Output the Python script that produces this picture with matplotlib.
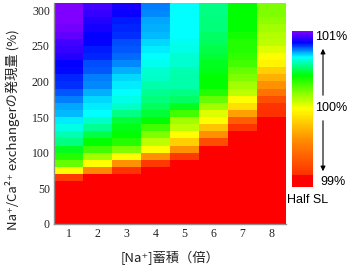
import numpy as np
import matplotlib
matplotlib.use("Agg")
import matplotlib.pyplot as plt
from matplotlib.colors import LinearSegmentedColormap

# [Na+] accumulation (fold) and NCX expression level (%)
na_fold = [1, 2, 3, 4, 5, 6, 7, 8]
ncx_edges = list(range(0, 320, 10))
y_ticks = [0, 50, 100, 150, 200, 250, 300]

# relative value (%) per column, rows from 0-10 up to 300-310; < 99 drawn as Half SL red
col1 = [98.5, 98.5, 98.5, 98.5, 98.5, 98.5, 99.05, 99.92, 100.2, 100.32, 100.41,
        100.51, 100.56, 100.61, 100.65, 100.69, 100.71, 100.74, 100.77, 100.8, 100.81,
        100.83, 100.84, 100.88, 100.9, 100.92, 100.96, 100.98, 101.0, 101.0, 101.0]
col2 = [98.5, 98.5, 98.5, 98.5, 98.5, 98.5, 98.5, 99.45, 99.92, 100.09, 100.26,
        100.38, 100.45, 100.53, 100.58, 100.64, 100.65, 100.67, 100.7, 100.73, 100.74,
        100.77, 100.78, 100.81, 100.82, 100.84, 100.84, 100.86, 100.88, 100.9, 100.92]
col3 = [98.5, 98.5, 98.5, 98.5, 98.5, 98.5, 98.5, 99.02, 99.5, 99.92, 100.15,
        100.32, 100.38, 100.4, 100.43, 100.51, 100.58, 100.61, 100.64, 100.65, 100.67,
        100.7, 100.73, 100.75, 100.77, 100.78, 100.8, 100.81, 100.82, 100.85, 100.86]
col4 = [98.5, 98.5, 98.5, 98.5, 98.5, 98.5, 98.5, 98.5, 99.05, 99.5, 99.92,
        100.04, 100.15, 100.26, 100.38, 100.43, 100.47, 100.5, 100.53, 100.55, 100.58,
        100.59, 100.62, 100.64, 100.65, 100.67, 100.69, 100.7, 100.71, 100.73, 100.74]
col5 = [98.5, 98.5, 98.5, 98.5, 98.5, 98.5, 98.5, 98.5, 98.5, 99.05, 99.5,
        99.74, 99.92, 100.04, 100.09, 100.26, 100.41, 100.48, 100.51, 100.55, 100.55,
        100.56, 100.59, 100.59, 100.61, 100.62, 100.64, 100.64, 100.64, 100.64, 100.64]
col6 = [98.5, 98.5, 98.5, 98.5, 98.5, 98.5, 98.5, 98.5, 98.5, 98.5, 98.5,
        99.15, 99.5, 99.7, 99.92, 99.98, 100.09, 100.2, 100.32, 100.38, 100.38,
        100.4, 100.41, 100.43, 100.45, 100.47, 100.48, 100.5, 100.5, 100.51, 100.51]
col7 = [98.5, 98.5, 98.5, 98.5, 98.5, 98.5, 98.5, 98.5, 98.5, 98.5, 98.5,
        98.5, 98.5, 99.02, 99.24, 99.56, 99.8, 99.92, 100.04, 100.09, 100.15,
        100.2, 100.26, 100.29, 100.32, 100.32, 100.35, 100.38, 100.38, 100.38, 100.38]
col8 = [98.5, 98.5, 98.5, 98.5, 98.5, 98.5, 98.5, 98.5, 98.5, 98.5, 98.5,
        98.5, 98.5, 98.5, 98.5, 99.0, 99.02, 99.15, 99.35, 99.5, 99.62,
        99.74, 99.88, 99.92, 99.98, 100.04, 100.06, 100.09, 100.12, 100.15, 100.15]

cmap = LinearSegmentedColormap.from_list("ncx", [
    (0.00, "#ff3000"), (0.25, "#ff9000"), (0.46, "#ffff00"), (0.69, "#00ff00"),
    (0.82, "#00ffff"), (0.92, "#0000ff"), (1.00, "#8000ff")])
cmap.set_under("#ff0000")

jp = ["Noto Sans CJK JP", "DejaVu Sans"]

fig = plt.figure(figsize=(3.55, 2.72), dpi=100)
ax = fig.add_axes([54 / 355, 48 / 272, 232 / 355, 221 / 272])

vals = np.array([col1, col2, col3, col4, col5, col6, col7, col8]).T
x_edges = np.arange(len(na_fold) + 1) + 0.5
im = ax.pcolormesh(x_edges, ncx_edges, vals, cmap=cmap, vmin=99, vmax=101)

ax.set_xlim(0.5, 8.5)
ax.set_ylim(0, 310)
ax.set_xticks(na_fold)
ax.set_yticks(y_ticks)
ax.tick_params(length=0, labelsize=8.5, colors="#222222", pad=3)
for lab in ax.get_xticklabels() + ax.get_yticklabels():
    lab.set_family("Liberation Serif")
for s in ["top", "right"]:
    ax.spines[s].set_visible(False)
for s in ["left", "bottom"]:
    ax.spines[s].set_color("#909090")
    ax.spines[s].set_linewidth(1.0)

fig.text(170 / 355, 1 - 258 / 272, "[Na⁺]蓄積（倍）", family=jp, fontsize=9.5,
         ha="center", va="center", color="#222222")
fig.text(13 / 355, 1 - 130 / 272, "Na⁺/Ca²⁺ exchangerの発現量 (%)", family=jp,
         fontsize=9.5, rotation=90, ha="center", va="center", color="#222222")

# colour scale
cax = fig.add_axes([292 / 355, 85 / 272, 21 / 355, 156 / 272])
cb = fig.colorbar(im, cax=cax, extend="min", extendrect=True, extendfrac=0.085)
cb.outline.set_visible(False)
cb.set_ticks([])

fig.text(315, 235, "101%", transform=None, fontsize=9, family="Liberation Sans",
         va="center", ha="left")
fig.text(315, 164, "100%", transform=None, fontsize=9, family="Liberation Sans",
         va="center", ha="left")
fig.text(320, 90, "99%", transform=None, fontsize=9, family="Liberation Sans",
         va="center", ha="left")
fig.text(287, 72, "Half SL", transform=None, fontsize=9, family="Liberation Sans",
         va="center", ha="left")
arrow = dict(arrowstyle="-|>", color="black", lw=0.8, mutation_scale=7)
fig.add_artist(plt.Annotation("", xy=(323, 226), xytext=(323, 174),
                              xycoords="figure pixels", textcoords="figure pixels",
                              arrowprops=arrow))
fig.add_artist(plt.Annotation("", xy=(323, 98), xytext=(323, 154),
                              xycoords="figure pixels", textcoords="figure pixels",
                              arrowprops=arrow))

fig.savefig("out.png", dpi=100)
